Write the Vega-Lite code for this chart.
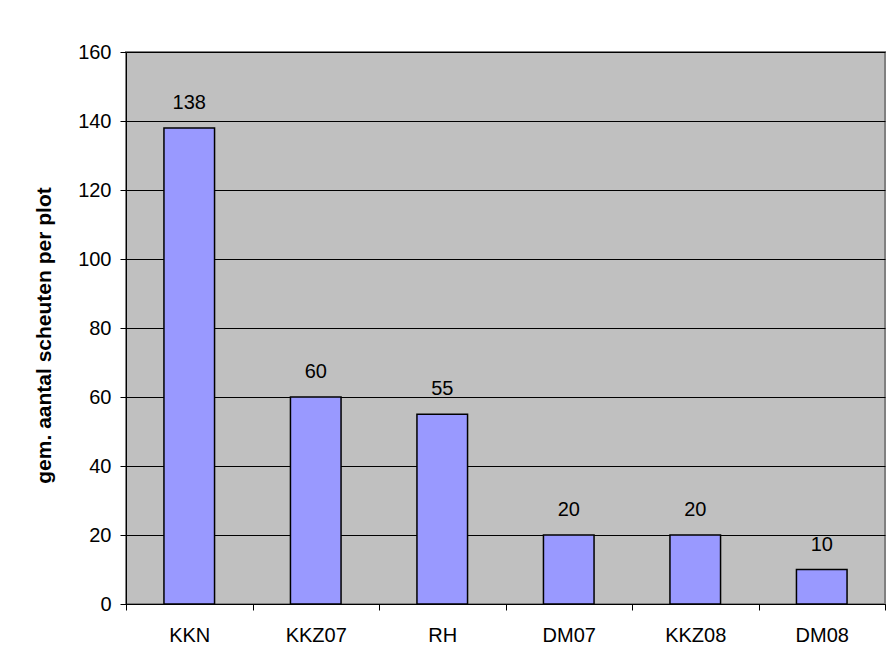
{
  "$schema": "https://vega.github.io/schema/vega-lite/v6.json",
  "autosize": "none",
  "width": 759,
  "height": 552,
  "padding": {"left": 126, "top": 52, "right": 8, "bottom": 66},
  "background": "white",
  "config": {
    "font": "Liberation Sans",
    "view": {"fill": "#C0C0C0", "stroke": "#808080", "strokeWidth": 2}
  },
  "data": {
    "values": [
      {"plot": "KKN", "value": 138},
      {"plot": "KKZ07", "value": 60},
      {"plot": "RH", "value": 55},
      {"plot": "DM07", "value": 20},
      {"plot": "KKZ08", "value": 20},
      {"plot": "DM08", "value": 10}
    ]
  },
  "encoding": {
    "x": {
      "field": "plot",
      "type": "nominal",
      "sort": null,
      "scale": {"paddingInner": 0, "paddingOuter": 0},
      "axis": {
        "title": null,
        "labelAngle": 0,
        "labelFontSize": 20,
        "labelColor": "black",
        "tickBand": "extent",
        "tickColor": "black",
        "tickSize": 6,
        "domainColor": "black",
        "labelPadding": 15
      }
    },
    "y": {
      "field": "value",
      "type": "quantitative",
      "scale": {"domain": [0, 160], "nice": false},
      "axis": {
        "values": [0, 20, 40, 60, 80, 100, 120, 140, 160],
        "title": "gem. aantal scheuten per plot",
        "titleFontSize": 21,
        "titleFontWeight": "bold",
        "titleColor": "black",
        "titleX": -82,
        "titleY": 283,
        "titleBaseline": "middle",
        "grid": true,
        "gridColor": "black",
        "gridOpacity": 1,
        "gridWidth": 1,
        "domainColor": "black",
        "tickColor": "black",
        "tickSize": 6,
        "labelFontSize": 20,
        "labelColor": "black",
        "labelPadding": 9
      }
    }
  },
  "layer": [
    {"mark": {"type": "bar", "width": {"band": 0.4}, "fill": "#9999FF", "stroke": "black", "strokeWidth": 1.5}},
    {"mark": {"type": "text", "dy": -19, "baseline": "alphabetic", "fontSize": 20, "color": "black"}, "encoding": {"text": {"field": "value"}}}
  ]
}
